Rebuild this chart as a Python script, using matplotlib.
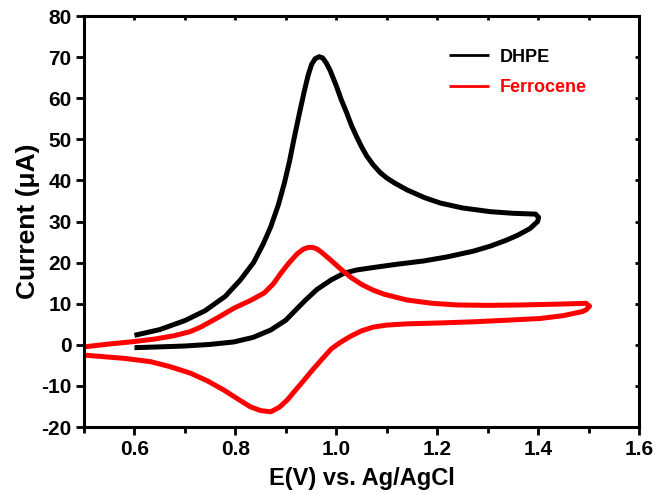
import matplotlib.pyplot as plt
from matplotlib.ticker import MultipleLocator

plt.rcParams["font.family"] = ["Liberation Sans", "DejaVu Sans"]
plt.rcParams["font.weight"] = "bold"
plt.rcParams["axes.unicode_minus"] = False

# DHPE cyclic voltammogram (forward scan then reverse)
dhpe_e = [0.600, 0.650, 0.700, 0.740, 0.780, 0.810, 0.836, 0.855, 0.870, 0.885,
          0.897, 0.907, 0.916, 0.926, 0.936, 0.944, 0.951, 0.958, 0.966, 0.973,
          0.980, 0.988, 1.000, 1.010, 1.021, 1.030, 1.040, 1.050, 1.060, 1.073,
          1.087, 1.100, 1.115, 1.140, 1.175, 1.206, 1.250, 1.305, 1.350, 1.395,
          1.401,
          1.399, 1.384, 1.360, 1.338, 1.305, 1.272, 1.220, 1.173, 1.120, 1.073,
          1.040, 1.015, 0.990, 0.962, 0.940, 0.923, 0.900, 0.870, 0.835, 0.797,
          0.750, 0.698, 0.650, 0.600]
dhpe_i = [2.3, 3.7, 5.9, 8.3, 11.8, 15.8, 20.0, 24.5, 28.7, 34.0,
          39.3, 44.5, 50.0, 55.8, 61.4, 65.5, 68.2, 69.6, 70.1, 69.8,
          68.6, 66.7, 63.0, 59.6, 56.3, 53.4, 50.7, 48.2, 46.0, 43.8,
          41.9, 40.6, 39.4, 37.7, 35.8, 34.5, 33.3, 32.4, 32.0, 31.8,
          31.0,
          30.0, 28.3, 26.7, 25.5, 24.0, 22.8, 21.4, 20.4, 19.6, 18.8,
          18.2, 17.4, 15.8, 13.5, 11.0, 8.9, 6.0, 3.6, 1.8, 0.7,
          0.1, -0.3, -0.5, -0.7]

# Ferrocene cyclic voltammogram
ferro_e = [0.500, 0.550, 0.600, 0.640, 0.678, 0.710, 0.731, 0.765, 0.797, 0.830,
           0.857, 0.875, 0.890, 0.906, 0.923, 0.935, 0.945, 0.953, 0.962, 0.970,
           0.989, 1.010, 1.029, 1.050, 1.073, 1.095, 1.140, 1.190, 1.239, 1.300,
           1.371, 1.440, 1.495, 1.502,
           1.495, 1.488, 1.450, 1.404, 1.340, 1.272, 1.200, 1.140, 1.100, 1.073,
           1.050, 1.027, 1.007, 0.990, 0.976, 0.955, 0.936, 0.918, 0.903, 0.887,
           0.870, 0.850, 0.830, 0.805, 0.777, 0.745, 0.711, 0.670, 0.632, 0.580,
           0.500]
ferro_i = [-0.5, 0.2, 0.8, 1.4, 2.2, 3.2, 4.3, 6.6, 8.9, 10.8,
           12.6, 14.8, 17.4, 19.9, 22.2, 23.3, 23.7, 23.7, 23.3, 22.6,
           20.6, 18.3, 16.4, 14.7, 13.3, 12.3, 10.9, 10.1, 9.7, 9.6,
           9.7, 9.9, 10.1, 9.4,
           8.5, 8.1, 7.1, 6.4, 6.0, 5.6, 5.3, 5.1, 4.8, 4.3,
           3.4, 2.0, 0.5, -1.0, -2.9, -5.8, -8.6, -11.2, -13.4, -15.2,
           -16.3, -16.0, -15.1, -13.2, -11.0, -8.8, -6.9, -5.3, -4.1, -3.3,
           -2.5]

fig = plt.figure(figsize=(6.59, 4.94), dpi=100)
ax = fig.add_axes([0.1275, 0.1356, 0.8422, 0.832])

ax.plot(dhpe_e, dhpe_i, color="black", lw=3.6, solid_joinstyle="round",
        solid_capstyle="butt", label="DHPE")
ax.plot(ferro_e, ferro_i, color="red", lw=3.6, solid_joinstyle="round",
        solid_capstyle="butt", label="Ferrocene")

ax.set_xlim(0.5, 1.6)
ax.set_ylim(-20, 80)
ax.xaxis.set_major_locator(MultipleLocator(0.2))
ax.xaxis.set_minor_locator(MultipleLocator(0.1))
ax.yaxis.set_major_locator(MultipleLocator(10))

for s in ax.spines.values():
    s.set_linewidth(2.2)

ax.tick_params(which="major", direction="out", length=6, width=2,
               labelsize=15, pad=3)
ax.tick_params(which="minor", direction="out", length=4, width=2)
ax.tick_params(which="both", top=True, right=True)
# ticks on top/right point inward
for t in ax.xaxis.get_major_ticks() + ax.xaxis.get_minor_ticks():
    t.tick2line.set_marker(3)
    t.tick2line.set_markersize(3)
for t in ax.yaxis.get_major_ticks():
    t.tick2line.set_marker(0)
    t.tick2line.set_markersize(3)

xt = ax.get_xticks()
ax.set_xticks(xt)
ax.set_xticklabels(["" if v < 0.55 else f"{v:.1f}" for v in xt], fontweight="bold")
ax.set_xlim(0.5, 1.6)
for lbl in ax.get_yticklabels():
    lbl.set_fontweight("bold")

ax.set_xlabel("E(V) vs. Ag/AgCl", fontsize=17, fontweight="bold", labelpad=6)
ax.set_ylabel("Current (\u03bcA)", fontsize=19, fontweight="bold", labelpad=1)

leg = ax.legend(loc="upper right", bbox_to_anchor=(0.935, 0.96), frameon=False,
                fontsize=13, handlelength=2.2, handletextpad=0.6,
                labelspacing=0.75)
for line, text in zip(leg.get_lines(), leg.get_texts()):
    text.set_color(line.get_color())
    text.set_fontweight("bold")
    line.set_linewidth(2)

fig.savefig("out.png", dpi=100)
